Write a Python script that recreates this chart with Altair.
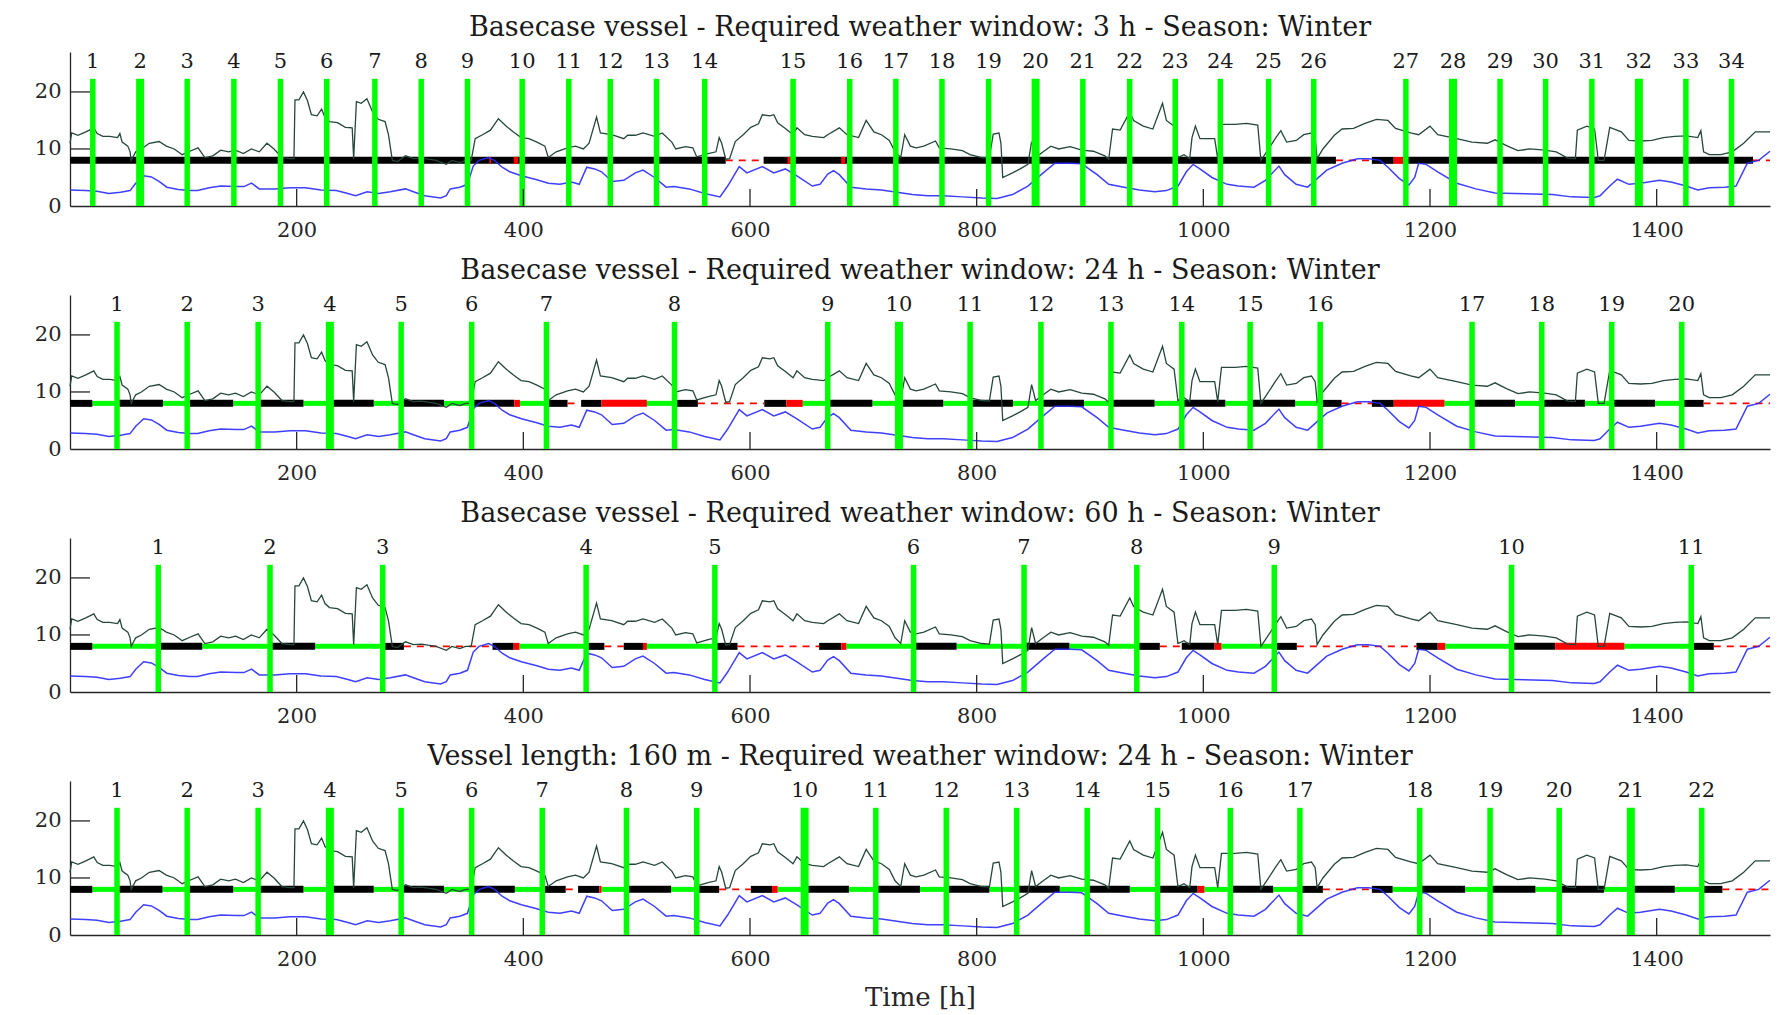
import altair as alt
import pandas as pd

FONT = "DejaVu Serif"
INK = "#262626"

# ---- shared weather series ----
green_t = [0, 1.5, 7, 14, 21, 24, 29, 35, 42, 44, 46, 51, 53, 54, 58, 63, 70, 78.6, 85, 92, 99, 105.8, 113, 119,
           126, 133, 140, 146, 153, 160, 167, 173.8, 180, 187, 194, 197.6, 198.5, 202, 206, 209.5, 213, 218, 222,
           225, 229, 236, 243, 249, 250.3, 252.7, 257, 262, 267, 272, 278, 281, 284.4, 289, 296, 303, 310, 316,
           323, 332, 337, 344, 349, 354, 357.5, 364, 371, 378, 385, 391, 398, 405, 412, 419, 422, 429, 439, 446,
           453, 458, 464.6, 468, 478, 488.6, 492, 498.8, 505.6, 515.8, 522.6, 531, 534.5, 543, 549.6, 553, 563,
           570, 572.8, 575, 578.6, 582, 587, 594, 600.7, 607.5, 610.9, 617.6, 621, 624.4, 631.2, 638, 641.4,
           648.2, 655, 665, 668.6, 678.8, 685.6, 695.8, 702.5, 709.3, 716, 722.9, 728, 733, 736.5, 741.5, 746.6,
           753.4, 763.7, 767, 777.2, 787.4, 794.2, 804.4, 811.2, 814.6, 819.7, 821.4, 823, 831.6, 838.4, 845.2,
           848.5, 852, 858.7, 865.5, 872.3, 882.5, 892.7, 902.9, 913.1, 916.5, 919.9, 926.6, 935.1, 938.5, 947,
           955.5, 964, 967.4, 974.2, 977.6, 983, 988, 990, 993, 997, 1010, 1012.7, 1016, 1028, 1038, 1048,
           1050.8, 1057.6, 1064, 1068.4, 1073.5, 1082, 1088.6, 1095.4, 1098.7, 1100.4, 1105.5, 1115.6, 1122.4,
           1132.5, 1142.7, 1152.7, 1162.9, 1169.6, 1183, 1190, 1200, 1206.8, 1223.6, 1237.1, 1250.6, 1257.4,
           1267.5, 1277.6, 1287.8, 1301.3, 1311.4, 1321.5, 1328.3, 1330, 1338.4, 1345.2, 1348.5, 1353.6, 1358.6,
           1368.8, 1375.5, 1385.7, 1395.8, 1405.9, 1416, 1426.2, 1436.3, 1439, 1441.4, 1446.4, 1456.6, 1466.7,
           1476.8, 1487, 1500]
green_v = [11.0, 12.8, 12.4, 13.0, 13.7, 12.7, 12.2, 12.2, 12.0, 12.7, 11.2, 10.5, 9.5, 8.0, 9.5, 10.0, 11.0, 11.3,
           10.5, 10.0, 9.0, 9.6, 10.2, 8.5, 8.8, 9.8, 9.5, 9.8, 9.2, 10.0, 9.5, 11.0, 10.0, 8.5, 8.3, 8.3, 18.6,
           18.6, 20.0, 18.5, 16.0, 15.8, 17.0, 15.5, 14.8, 14.6, 13.8, 13.7, 8.3, 18.3, 18.0, 18.8, 16.5, 15.2,
           14.8, 12.5, 8.0, 7.8, 8.8, 8.3, 8.4, 8.2, 8.0, 7.3, 8.0, 7.6, 8.0, 8.0, 11.8, 12.5, 13.3, 15.3, 14.0,
           13.0, 12.0, 11.8, 11.2, 10.5, 8.5, 9.5, 10.2, 10.5, 10.0, 11.0, 15.6, 12.8, 12.5, 11.8, 12.4, 12.4,
           12.8, 12.2, 12.8, 11.2, 10.0, 10.4, 10.2, 8.6, 9.2, 9.5, 12.0, 11.0, 8.2, 8.3, 11.3, 12.5, 13.8, 14.4,
           16.0, 15.8, 16.0, 14.6, 13.6, 12.5, 13.7, 12.5, 12.2, 12.0, 12.5, 13.7, 12.5, 12.0, 15.0, 13.0, 12.5,
           11.5, 9.5, 8.5, 12.5, 10.5, 10.2, 10.5, 11.4, 10.2, 10.0, 9.7, 9.0, 8.5, 8.4, 12.6, 12.8, 11.0, 5.0,
           5.8, 6.5, 7.3, 11.3, 8.5, 9.5, 10.5, 10.0, 10.4, 9.8, 9.6, 8.8, 8.2, 13.5, 13.3, 16.5, 15.0, 14.0,
           13.5, 18.0, 15.0, 14.0, 8.5, 9.0, 8.3, 12.0, 14.0, 11.8, 11.8, 8.3, 14.3, 14.3, 14.5, 14.2, 8.0, 10.0,
           12.0, 13.2, 11.2, 11.5, 12.5, 12.8, 11.8, 8.3, 10.0, 12.4, 13.5, 13.6, 14.5, 15.2, 15.0, 13.6, 12.8,
           12.5, 14.0, 12.5, 11.8, 11.2, 11.0, 11.6, 10.6, 9.7, 10.0, 9.8, 9.5, 8.4, 8.3, 13.3, 14.0, 13.5, 8.0,
           8.0, 13.8, 13.0, 11.5, 11.4, 11.5, 12.0, 12.2, 12.3, 12.0, 13.2, 9.5, 9.0, 9.0, 9.5, 11.0, 13.0, 13.0]

blue_t = [0, 13.6, 23.8, 34.3, 44.5, 53, 58, 65, 71.8, 78.6, 85.4, 95.6, 105.8, 112.6, 122.8, 133, 146.6, 153.4,
          160.2, 167, 180.6, 194.2, 207.8, 221.4, 235, 245.2, 252, 262.2, 272.4, 282.6, 296, 303, 313, 327, 332,
          335.5, 344, 350.7, 355.8, 360.9, 369.4, 374.5, 381.3, 388, 398.3, 411.9, 422, 432.3, 442.5, 449.3, 456,
          462.9, 469, 478.4, 488.6, 498.8, 505.6, 515.8, 526, 532.8, 546.4, 560, 573.5, 580.3, 590.5, 597.3, 610.9,
          621, 631.2, 641.4, 655, 661.8, 668.6, 673.7, 678.8, 689, 702.5, 716, 729.7, 743.3, 756.8, 770.5, 787.4,
          804.4, 818, 831.6, 845.2, 858.7, 869, 882.5, 892.7, 906.3, 916.5, 930, 943.6, 957.2, 967.4, 977.6, 985,
          991, 997, 1007.6, 1021, 1031, 1044.7, 1054.8, 1066.7, 1071.8, 1081.9, 1092, 1098.7, 1108.9, 1122.4,
          1135.9, 1146, 1156, 1162.9, 1173, 1181.4, 1186.5, 1190, 1196.6, 1206.8, 1223.6, 1240.5, 1257.4, 1274.3,
          1291.1, 1308, 1324.9, 1345, 1350, 1358.6, 1365.4, 1375.5, 1385.7, 1402.5, 1412.7, 1426, 1436.3, 1446.4,
          1460, 1470, 1480, 1490, 1500]
blue_v = [2.8, 2.7, 2.6, 2.2, 2.4, 2.7, 4.0, 5.3, 5.1, 4.3, 3.3, 2.9, 2.7, 2.7, 3.2, 3.5, 3.4, 3.4, 4.0, 3.0, 3.0,
          3.2, 3.2, 2.8, 2.7, 2.2, 1.8, 2.5, 2.2, 2.5, 3.0, 2.5, 1.8, 1.4, 1.8, 3.0, 3.3, 3.8, 7.0, 8.0, 8.5, 8.0,
          6.8, 6.0, 5.3, 4.6, 4.0, 3.8, 4.2, 3.8, 6.8, 6.5, 6.0, 4.3, 4.5, 5.8, 6.3, 5.0, 3.3, 3.4, 3.0, 2.2, 1.6,
          3.5, 6.9, 5.8, 6.9, 5.8, 6.5, 5.3, 3.5, 3.8, 5.6, 6.2, 5.5, 3.3, 3.0, 2.8, 2.4, 2.0, 1.8, 1.8, 1.6, 1.4,
          1.3, 2.0, 3.5, 5.8, 7.5, 7.5, 7.4, 5.5, 3.8, 3.3, 2.8, 2.5, 2.7, 3.5, 6.0, 7.3, 6.5, 5.0, 3.8, 3.5, 3.3,
          4.5, 7.0, 5.5, 3.8, 3.3, 4.5, 6.3, 7.5, 8.3, 8.3, 8.0, 6.8, 4.8, 3.7, 5.0, 7.5, 7.3, 6.0, 4.0, 3.0, 2.3,
          2.2, 2.1, 2.0, 1.6, 1.5, 1.8, 3.5, 4.7, 3.8, 4.0, 4.5, 4.2, 3.5, 2.8, 3.2, 3.3, 3.5, 7.5, 8.0, 9.6]

# ---- per panel ----
titles = [
    "Basecase vessel - Required weather window: 3 h - Season: Winter",
    "Basecase vessel - Required weather window: 24 h - Season: Winter",
    "Basecase vessel - Required weather window: 60 h - Season: Winter",
    "Vessel length: 160 m - Required weather window: 24 h - Season: Winter",
]

events = [
    [20.1, 61.9, 103.4, 144.6, 185.7, 226.5, 269, 309.9, 350.7, 399, 440.1, 476.7, 517.5, 560, 638, 688, 728.7,
     769.4, 810.5, 852, 893.7, 935, 975.2, 1015, 1057.6, 1097.4, 1178.7, 1220.3, 1261.8, 1302, 1342.8, 1384.3,
     1425.8, 1466],
    [41.5, 103.4, 166, 229.3, 292.2, 354.4, 420.4, 533.4, 668.6, 731.4, 794.2, 856.7, 918.5, 981, 1041.3, 1103.1,
     1237.1, 1298.6, 1360.3, 1422.1],
    [77.9, 176.5, 275.9, 455.4, 569, 744.3, 841.8, 941.3, 1062.6, 1271.9, 1430.5],
    [41.5, 103.4, 166, 229.3, 292.2, 354.4, 416.7, 491, 553, 648.2, 711, 773.2, 835.3, 897.5, 959.6, 1023.8,
     1085.2, 1190.9, 1253, 1314, 1377.2, 1439.7],
]
thick = [[2, 20, 28, 32], [4, 10], [], [4, 10, 21]]

# k = working (black), g = waiting (green), r = downtime (red), d = idle (red dashed)
segments = [
    [("k", 0, 578.6), ("d", 578.6, 612), ("k", 612, 1117), ("d", 1117, 1148.7), ("k", 1148.7, 1168),
     ("r", 1168, 1178), ("k", 1178, 1485), ("d", 1485, 1500), ("r", 391.5, 395.6), ("r", 633, 636.5),
     ("r", 680.5, 684), ("r", 370, 371.5)],
    [("k", 0, 19.7), ("g", 19.7, 41.5), ("k", 41.5, 82), ("g", 82, 103.4), ("k", 103.4, 144), ("g", 144, 166),
     ("k", 166, 206), ("g", 206, 229.3), ("k", 229.3, 268), ("g", 268, 292.2), ("k", 292.2, 330),
     ("g", 330, 354.4), ("k", 354.4, 392), ("r", 392, 397), ("g", 397, 420.4), ("k", 420.4, 439),
     ("d", 439, 449), ("k", 451, 469), ("r", 469, 509), ("g", 509, 533.4), ("k", 533.4, 554), ("d", 554, 612.6),
     ("k", 612.6, 632), ("r", 632, 646.5), ("g", 646.5, 668.6), ("k", 668.6, 708), ("g", 708, 731.4),
     ("k", 731.4, 770.5), ("g", 770.5, 794.2), ("k", 794.2, 832), ("g", 832, 856.7), ("k", 856.7, 894.7),
     ("g", 894.7, 918.5), ("k", 918.5, 957), ("g", 957, 981), ("k", 981, 1019.4), ("g", 1019.4, 1041.3),
     ("k", 1041.3, 1081), ("g", 1081, 1103.1), ("k", 1103.1, 1122), ("d", 1122, 1148.7), ("k", 1148.7, 1168),
     ("r", 1168, 1212.8), ("g", 1212.8, 1237.1), ("k", 1237.1, 1275), ("g", 1275, 1298.6), ("k", 1298.6, 1336.7),
     ("g", 1336.7, 1360.3), ("k", 1360.3, 1398.5), ("g", 1398.5, 1422.1), ("k", 1422.1, 1441.4),
     ("d", 1441.4, 1500)],
    [("k", 0, 19.7), ("g", 19.7, 77.9), ("k", 77.9, 116.7), ("g", 116.7, 176.5), ("k", 176.5, 216.3),
     ("g", 216.3, 275.9), ("k", 275.9, 294.6), ("d", 294.6, 372.8), ("k", 372.8, 391.5), ("r", 391.5, 396.6),
     ("g", 396.6, 455.4), ("k", 455.4, 471.5), ("d", 471.5, 488.6), ("k", 488.6, 505.6), ("r", 505.6, 509),
     ("g", 509, 569), ("k", 569, 589), ("d", 589, 661), ("k", 661, 680.5), ("r", 680.5, 685), ("g", 685, 744.3),
     ("k", 744.3, 782.3), ("g", 782.3, 841.8), ("k", 841.8, 881.8), ("g", 881.8, 941.3), ("k", 941.3, 961.6),
     ("d", 961.6, 981), ("k", 981, 1010), ("r", 1010, 1016), ("g", 1016, 1062.6), ("k", 1062.6, 1082.5),
     ("d", 1082.5, 1188), ("k", 1188, 1206.8), ("r", 1206.8, 1213.5), ("g", 1213.5, 1271.9),
     ("k", 1271.9, 1310.4), ("r", 1310.4, 1371.5), ("g", 1371.5, 1430.5), ("k", 1430.5, 1450.4),
     ("d", 1450.4, 1500)],
    [("k", 0, 19.7), ("g", 19.7, 41.5), ("k", 41.5, 81.6), ("g", 81.6, 103.4), ("k", 103.4, 144), ("g", 144, 166),
     ("k", 166, 206), ("g", 206, 229.3), ("k", 229.3, 268), ("g", 268, 292.2), ("k", 292.2, 330),
     ("g", 330, 354.4), ("k", 354.4, 392.5), ("g", 392.5, 416.7), ("k", 416.7, 437.4), ("d", 437.4, 446),
     ("k", 448.3, 467), ("r", 467, 469), ("g", 469, 491), ("k", 491, 530.4), ("g", 530.4, 553),
     ("k", 553, 572.8), ("d", 572.8, 600.7), ("k", 600.7, 619.4), ("r", 619.4, 624.4), ("g", 624.4, 648.2),
     ("k", 648.2, 687.3), ("g", 687.3, 711), ("k", 711, 750), ("g", 750, 773.2), ("k", 773.2, 811.2),
     ("g", 811.2, 835.3), ("k", 835.3, 873.3), ("g", 873.3, 897.5), ("k", 897.5, 935.1), ("g", 935.1, 959.6),
     ("k", 959.6, 995), ("r", 995, 1001), ("g", 1001, 1023.8), ("k", 1023.8, 1061.6), ("g", 1061.6, 1085.2),
     ("k", 1085.2, 1105.5), ("d", 1105.5, 1148.7), ("k", 1148.7, 1167), ("g", 1167, 1190.9),
     ("k", 1190.9, 1231), ("g", 1231, 1253), ("k", 1253, 1293), ("g", 1293, 1314), ("k", 1314, 1353.5),
     ("g", 1353.5, 1377.2), ("k", 1377.2, 1416), ("g", 1416, 1439.7), ("k", 1439.7, 1458), ("d", 1458, 1500)],
]

xticks = [200, 400, 600, 800, 1000, 1200, 1400]
yticks = [0, 10, 20]
BAR_LEVEL = 8
EVENT_TOP = 22.3
LABEL_LEVEL = 25.2

W, H = 1700, 154

df_green = pd.DataFrame({"t": green_t, "v": green_v})
df_blue = pd.DataFrame({"t": blue_t, "v": blue_v})


def xs():
    return alt.Scale(domain=[0, 1500], nice=False, zero=False)


def ys():
    return alt.Scale(domain=[0, 27], nice=False, zero=False)


def panel(i, bottom):
    ev = pd.DataFrame({
        "t": events[i],
        "n": [str(k + 1) for k in range(len(events[i]))],
        "w": [8 if (k + 1) in thick[i] else 5.5 for k in range(len(events[i]))],
    })
    seg = pd.DataFrame(segments[i], columns=["kind", "a", "b"])

    xaxis_kw = dict(values=xticks, format="d", ticks=False, tickSize=0, labelFont=FONT, labelFontSize=21,
                    labelPadding=13, labelColor=INK, domainColor=INK, domainWidth=1.3, grid=False,
                    labelFlush=False)
    if bottom:
        xaxis_kw.update(title="Time [h]", titleFont=FONT, titleFontSize=26, titleFontWeight="normal",
                        titleColor=INK, titlePadding=15)
    else:
        xaxis_kw.update(title="")
    XA = alt.Axis(**xaxis_kw)
    YA = alt.Axis(values=yticks, format="d", ticks=False, tickSize=0, labelFont=FONT, labelFontSize=21,
                  labelPadding=9, labelColor=INK, domainColor=INK, domainWidth=1.3, grid=False, title="")

    layers = []
    styles = {"g": ("#00ff00", 5, None), "k": ("#000000", 7, None), "r": ("#ff0000", 7, None),
              "d": ("#ff0000", 1.8, [7, 6])}
    for kind in ["g", "k", "r", "d"]:
        sub = seg[seg.kind == kind]
        if len(sub) == 0:
            continue
        col, sw, dash = styles[kind]
        mk = dict(color=col, strokeWidth=sw, strokeCap="butt")
        if dash:
            mk["strokeDash"] = dash
        layers.append(alt.Chart(sub).mark_rule(**mk).encode(
            x=alt.X("a:Q", scale=xs(), axis=XA),
            x2="b:Q",
            y=alt.YDatum(BAR_LEVEL, scale=ys(), axis=YA),
        ))

    layers.append(alt.Chart(df_green).mark_line(color="#27473a", strokeWidth=1.3).encode(
        x=alt.X("t:Q", scale=xs(), axis=XA),
        y=alt.Y("v:Q", scale=ys(), axis=YA),
    ))
    layers.append(alt.Chart(df_blue).mark_line(color="#2a2aff", strokeWidth=1.5, opacity=0.9).encode(
        x=alt.X("t:Q", scale=xs(), axis=XA),
        y=alt.Y("v:Q", scale=ys(), axis=YA),
    ))
    layers.append(alt.Chart(ev).mark_rule(color="#00ff00", strokeCap="butt").encode(
        x=alt.X("t:Q", scale=xs(), axis=XA),
        y=alt.YDatum(0, scale=ys(), axis=YA),
        y2=alt.Y2Datum(EVENT_TOP),
        strokeWidth=alt.StrokeWidth("w:Q", scale=None, legend=None),
    ))
    layers.append(alt.Chart(ev).mark_text(font=FONT, fontSize=21, color="#1a1a1a", baseline="middle").encode(
        x=alt.X("t:Q", scale=xs(), axis=XA),
        y=alt.YDatum(LABEL_LEVEL, scale=ys(), axis=YA),
        text="n:N",
    ))
    # inward tick marks (MATLAB style)
    layers.append(alt.Chart(pd.DataFrame({"v": yticks[1:]})).mark_rule(color=INK, strokeWidth=1.3).encode(
        y=alt.Y("v:Q", scale=ys(), axis=YA), x=alt.value(0), x2=alt.value(20)))
    layers.append(alt.Chart(pd.DataFrame({"v": xticks})).mark_rule(color=INK, strokeWidth=1.3).encode(
        x=alt.X("v:Q", scale=xs(), axis=XA), y=alt.value(H), y2=alt.value(H - 17)))

    return alt.layer(*layers).properties(
        width=W, height=H,
        title=alt.TitleParams(titles[i], font=FONT, fontSize=27, fontWeight="normal", color="#1a1a1a",
                              offset=9, anchor="middle"),
    )


chart = alt.vconcat(*[panel(i, i == 3) for i in range(4)], spacing=17).properties(
    padding={"left": 34, "top": 14, "right": 15, "bottom": 2},
    background="white",
).configure_view(stroke=None)

chart.save("out.html", embed_options={"renderer": "svg", "actions": False})
